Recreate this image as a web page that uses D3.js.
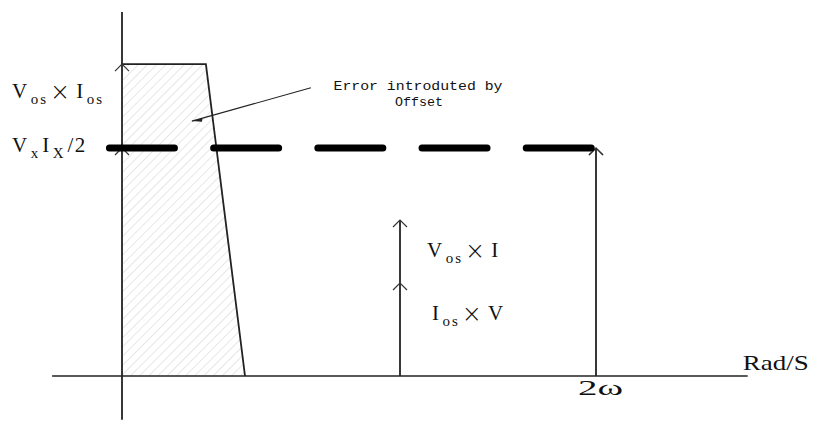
<!DOCTYPE html>
<html lang="en">
<head>
<meta charset="UTF-8">
<title>Error introduced by offset</title>
<script src="https://cdn.jsdelivr.net/npm/d3@7"></script>
<style>
    body{margin:0;background:#fff;}
    svg{display:block;}
    .lbl{font-family:"Liberation Serif",serif;fill:#111;}
    .note{font-family:"Liberation Mono",monospace;font-size:13px;fill:#111;}
</style>
</head>
<body>
<svg id="chart"></svg>
<script>
    // frequency in units of omega, power normalised so Vx*Ix/2 = 0.5
    const width = 814, height = 421;
    const xAxisExtent = [-0.295, 2.64];
    const yAxisExtent = [-0.096, 0.798];
    const levelValues = [0.684, 0.5];          // Vos x Ios , Vx Ix / 2
    const errorRegion = [[0, 0.684], [0.354, 0.684], [0.519, 0], [0, 0]];
    const signalStep = [[-0.053, 0.5], [2, 0.5], [2, 0]];
    const dcArrow = [[1.173, 0], [1.173, 0.342]];
    const dcChevrons = [0.342, 0.204];
    const axisChevrons = [0.684, 0.5];
    const xTickValues = [2];
    const xTickLabels = ["2ω"];
    const axisName = "Rad/S";
    const noteLines = ["Error introduted by", "Offset"];
    const noteArrow = [[0.797, 0.632], [0.295, 0.559]];
    // label pieces: text, 0 = normal, 1 = subscript, 2 = cross
    const labelVosIos = [["V", 0], ["os", 1], ["×", 2], ["I", 0], ["os", 1]];
    const labelVxIx = [["V", 0], ["x", 1], ["I", 0], ["X", 1], ["/2", 0]];
    const labelVosI = [["V", 0], ["os", 1], ["×", 2], ["I", 0]];
    const labelIosV = [["I", 0], ["os", 1], ["×", 2], ["V", 0]];

    const svg = d3.select("#chart").attr("width", width).attr("height", height);
    const x = d3.scaleLinear().domain([0, 2]).range([122, 596]);
    const y = d3.scaleLinear().domain([0, 0.5]).range([376, 148]);
    const line = d3.line().x(d => x(d[0])).y(d => y(d[1]));

    // hatch pattern
    const pat = svg.append("defs").append("pattern")
        .attr("id", "hatch").attr("patternUnits", "userSpaceOnUse")
        .attr("width", 6.5).attr("height", 6.5)
        .attr("patternTransform", "rotate(45)");
    pat.append("line").attr("x1", 0).attr("y1", 0).attr("x2", 0).attr("y2", 6.5)
        .attr("stroke", "#d6d6d6").attr("stroke-width", 1.2);

    svg.append("path").datum(errorRegion)
        .attr("d", line.curve(d3.curveLinearClosed))
        .attr("fill", "url(#hatch)").attr("stroke", "none");
    line.curve(d3.curveLinear);

    // edge of error region
    svg.append("path").datum(errorRegion.slice(0, 3))
        .attr("d", line).attr("fill", "none")
        .attr("stroke", "#222").attr("stroke-width", 1.8);

    // axes
    svg.append("line")
        .attr("x1", x(xAxisExtent[0])).attr("x2", x(xAxisExtent[1]))
        .attr("y1", y(0)).attr("y2", y(0))
        .attr("stroke", "#222").attr("stroke-width", 1.5);
    svg.append("line")
        .attr("x1", x(0)).attr("x2", x(0))
        .attr("y1", y(yAxisExtent[0])).attr("y2", y(yAxisExtent[1]))
        .attr("stroke", "#222").attr("stroke-width", 1.8);

    // signal power step
    svg.append("line")
        .attr("x1", x(signalStep[1][0])).attr("x2", x(signalStep[2][0]))
        .attr("y1", y(signalStep[1][1])).attr("y2", y(signalStep[2][1]))
        .attr("stroke", "#222").attr("stroke-width", 1.8);

    // DC component arrow
    svg.append("path").datum(dcArrow).attr("d", line)
        .attr("stroke", "#222").attr("stroke-width", 1.8);

    function chevron(cx, cy) {
        svg.append("path")
            .attr("d", `M${cx - 7},${cy + 7}L${cx},${cy}L${cx + 7},${cy + 7}`)
            .attr("fill", "none").attr("stroke", "#333").attr("stroke-width", 1.2);
    }
    dcChevrons.forEach(v => chevron(x(dcArrow[0][0]), y(v)));
    axisChevrons.forEach(v => chevron(x(0), y(v)));
    chevron(x(signalStep[1][0]), y(signalStep[1][1]));
    chevron(x(signalStep[2][0]), y(signalStep[1][1]));

    // Vx Ix / 2 dashed level
    svg.append("path").datum(signalStep.slice(0, 2)).attr("d", line)
        .attr("fill", "none").attr("stroke", "#000").attr("stroke-width", 7)
        .attr("stroke-linecap", "round").attr("stroke-dasharray", "65 39.2");

    // rich labels
    function richText(x0, base, parts) {
        let cx = x0;
        parts.forEach(([t, kind], i) => {
            const el = svg.append("text").attr("class", "lbl").text(t)
                .attr("x", cx).attr("y", base + (kind === 1 ? 6 : kind === 2 ? 2 : 0));
            if (kind === 1) el.attr("font-size", 15).attr("letter-spacing", 2);
            else if (kind === 2) el.attr("font-size", 24).style("font-family", "DejaVu Sans").attr("font-weight", 300);
            else el.attr("font-size", 21).attr("letter-spacing", 1.5);
            cx += el.node().getComputedTextLength() + (kind === 2 ? 6 : 2);
        });
    }
    richText(x(0) - 110, y(levelValues[0]) + 34, labelVosIos);
    richText(x(0) - 110, y(levelValues[1]) + 4, labelVxIx);
    richText(x(dcArrow[0][0]) + 27, y(0.261), labelVosI);
    richText(x(dcArrow[0][0]) + 32, y(0.123), labelIosV);

    // x tick label and axis name
    xTickValues.forEach((v, i) => {
        svg.append("text").attr("class", "lbl").attr("font-size", 21)
            .attr("x", x(v) - 18).attr("y", y(0) + 19)
            .attr("textLength", 45).attr("lengthAdjust", "spacingAndGlyphs")
            .text(xTickLabels[i]);
    });
    svg.append("text").attr("class", "lbl").attr("font-size", 21)
        .attr("x", x(xAxisExtent[1]) - 5).attr("y", y(0) - 6)
        .attr("textLength", 66).attr("lengthAdjust", "spacingAndGlyphs")
        .text(axisName);

    // annotation
    const nx = x(1.249), ny = y(0.627);
    svg.append("text").attr("class", "note").attr("text-anchor", "middle")
        .attr("x", nx).attr("y", ny)
        .attr("textLength", 169).attr("lengthAdjust", "spacingAndGlyphs")
        .text(noteLines[0]);
    svg.append("text").attr("class", "note").attr("text-anchor", "middle")
        .attr("x", nx + 1).attr("y", ny + 16)
        .attr("textLength", 48).attr("lengthAdjust", "spacingAndGlyphs")
        .text(noteLines[1]);
    svg.append("path").datum(noteArrow).attr("d", line)
        .attr("stroke", "#222").attr("stroke-width", 1.1);
    const [tx, ty] = [x(noteArrow[1][0]), y(noteArrow[1][1])];
    const ang = Math.atan2(y(noteArrow[0][1]) - ty, x(noteArrow[0][0]) - tx);
    svg.append("path")
        .attr("d", `M${tx},${ty}L${tx + 11 * Math.cos(ang)},${ty + 11 * Math.sin(ang)}L${tx + 10 * Math.cos(ang + 0.35)},${ty + 10 * Math.sin(ang + 0.35)}Z`)
        .attr("fill", "#222");
</script>
</body>
</html>
